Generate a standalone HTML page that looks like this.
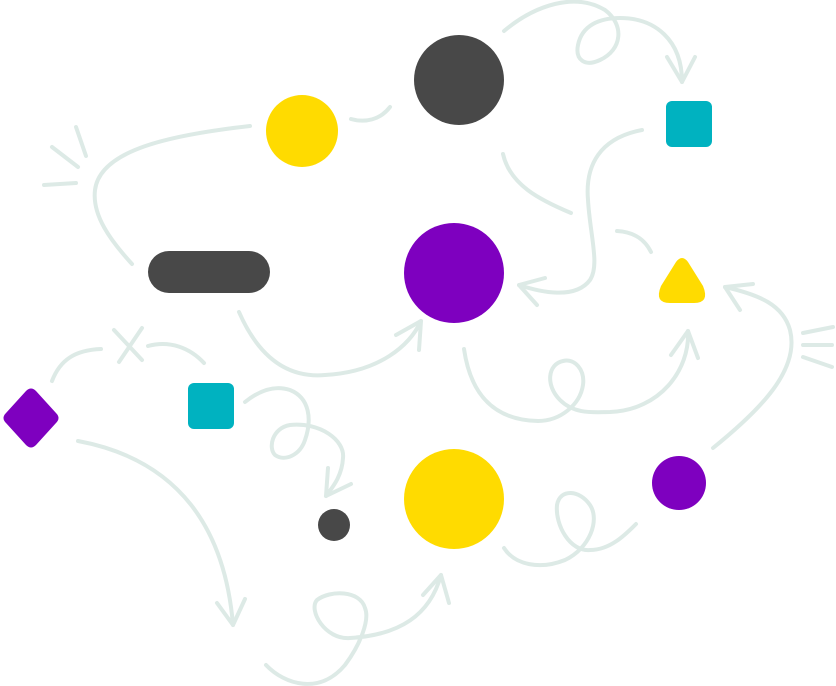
<!DOCTYPE html>
<html><head><style>html,body{margin:0;padding:0;background:#fff}svg{display:block}</style></head><body>
<svg width="836" height="686" viewBox="0 0 836 686" xmlns="http://www.w3.org/2000/svg">
<g fill="none" stroke="#DDEAE6" stroke-width="4" stroke-linecap="round" stroke-linejoin="round">
<path d="M504,31 C535,5 575,-8 605,10 C625,25 622,50 600,60 C585,67 575,60 578,45 C582,25 600,18 620,18 C655,18 682,40 682,82"/>
<path d="M667,57 L682,82 L695,57"/>
<path d="M351,119 C365,123 380,120 390,107"/>
<path d="M250,126 C170,135 100,150 95,190 C92,215 110,240 132,264"/>
<path d="M76,127 L86,156 M52,147 L78,167 M44,185 L76,183"/>
<path d="M503,154 C510,185 540,200 571,213"/>
<path d="M642,130 C600,138 585,165 588,200 C590,235 600,265 590,280 C575,300 540,292 519,285"/>
<path d="M545,278 L519,285 L537,305"/>
<path d="M617,231 C635,232 645,240 651,252"/>
<path d="M239,312 C260,360 290,378 325,375 C380,372 410,345 421,321"/>
<path d="M396,335 L421,321 L419,350"/>
<path d="M52,381 C60,360 75,350 101,349"/>
<path d="M114,330 L142,360 M142,328 L119,362"/>
<path d="M148,346 C170,340 190,348 204,363"/>
<path d="M464,349 C470,390 490,420 538,421 C560,421 580,405 583,385 C585,370 575,358 563,361 C548,364 545,385 560,400 C575,415 595,412 610,412 C660,410 690,370 688,331"/>
<path d="M671,355 L688,331 L698,358"/>
<path d="M245,402 C260,390 275,385 290,390 C310,398 312,420 305,440 C300,455 285,462 275,455 C268,448 272,428 290,425 C320,422 345,440 343,458 C342,478 330,490 326,496"/>
<path d="M328,468 L326,496 L351,484"/>
<path d="M78,441 C180,460 225,530 233,625"/>
<path d="M217,603 L233,625 L245,599"/>
<path d="M266,665 C285,685 320,695 345,665 C360,645 370,620 365,608 C360,590 330,590 317,600 C308,610 325,640 350,638 C400,635 430,615 441,575"/>
<path d="M423,595 L441,575 L449,603"/>
<path d="M504,548 C515,565 540,570 565,560 C590,548 600,520 590,505 C580,490 560,488 557,505 C555,525 570,552 590,550 C610,550 625,535 636,524"/>
<path d="M713,448 C760,410 800,370 790,330 C783,305 760,295 725,287"/>
<path d="M753,284 L725,287 L740,310"/>
<path d="M803,333 L833,327 M803,345 L832,345 M803,357 L832,367"/>
</g>
<circle cx="459" cy="80" r="45" fill="#484848"/>
<circle cx="302" cy="131" r="36" fill="#FFDB00"/>
<rect x="666" y="101" width="46" height="46" rx="6" fill="#00B2C0"/>
<circle cx="454" cy="273" r="50" fill="#7E00BF"/>
<rect x="148" y="251" width="122" height="42" rx="21" fill="#484848"/>
<path d="M676,262 Q682,254 688,262 L703,286 Q710,303 694,303 L670,303 Q654,303 661,286 Z" fill="#FFDB00"/>
<path d="M26,391 Q31,386 36,391 L56,413 Q61,418 56,423 L36,445 Q31,450 26,445 L6,423 Q1,418 6,413 Z" fill="#7E00BF"/>
<rect x="188" y="383" width="46" height="46" rx="6" fill="#00B2C0"/>
<circle cx="334" cy="525" r="16" fill="#484848"/>
<circle cx="454" cy="499" r="50" fill="#FFDB00"/>
<circle cx="679" cy="483" r="27" fill="#7E00BF"/>
</svg>
</body></html>
